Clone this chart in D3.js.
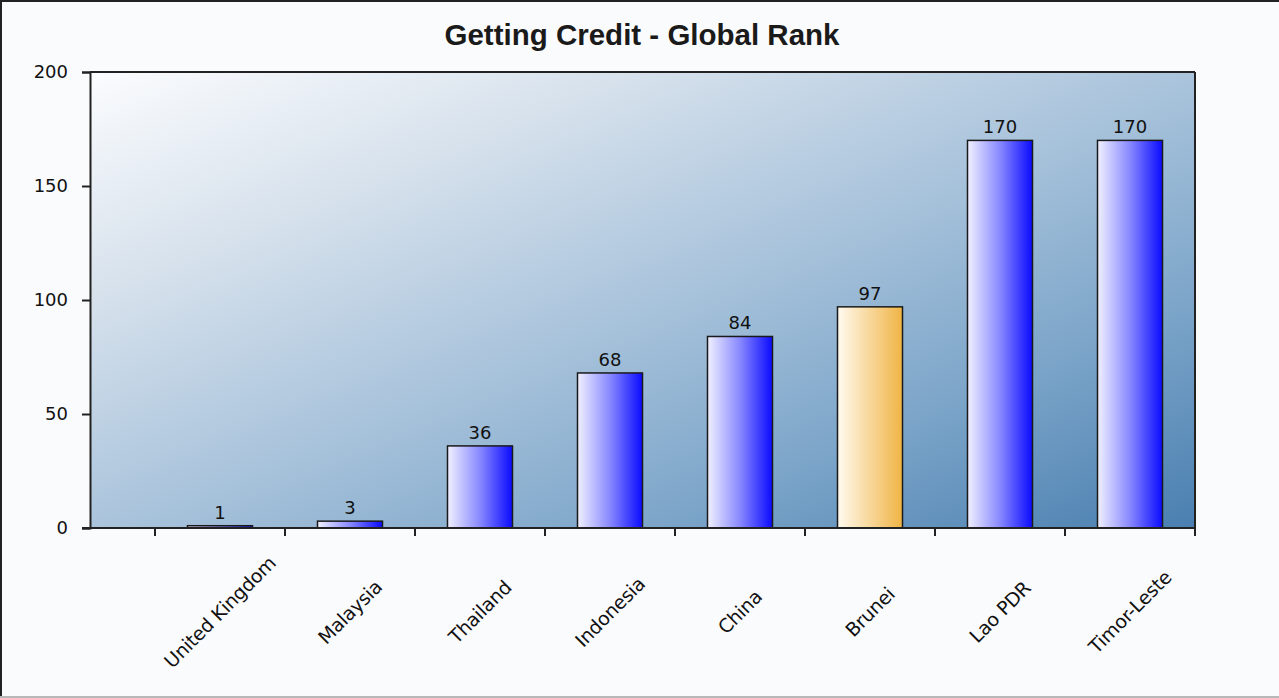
<!DOCTYPE html>
<html>
<head>
<meta charset="utf-8">
<script src="https://cdn.jsdelivr.net/npm/d3@7"></script>
<style>
  html, body { margin: 0; padding: 0; background: #fafbfd; }
  svg { display: block; }
</style>
</head>
<body>
<div id="chart"></div>
<script>
// chart data
const countries = ['United Kingdom', 'Malaysia', 'Thailand', 'Indonesia', 'China', 'Brunei', 'Lao PDR', 'Timor-Leste'];
const ranks = [1, 3, 36, 68, 84, 97, 170, 170];
const highlighted = ['Brunei'];
const yTicks = [0, 50, 100, 150, 200];

const width = 1279;
const height = 698;
const plot = { left: 90, top: 72, right: 1195, bottom: 528 };
const font = '"DejaVu Sans", Verdana, sans-serif';

const svg = d3.select('#chart')
  .append('svg')
  .attr('width', width)
  .attr('height', height);

const defs = svg.append('defs');

// diagonal background gradient of the plot area (corner to corner)
const bg = defs.append('linearGradient')
  .attr('id', 'plot-bg')
  .attr('x1', 0).attr('y1', 0)
  .attr('x2', 1).attr('y2', 1);
bg.append('stop').attr('offset', '0%').attr('stop-color', '#fbfcfe');
bg.append('stop').attr('offset', '25%').attr('stop-color', '#d6e1ec');
bg.append('stop').attr('offset', '50%').attr('stop-color', '#aac4dc');
bg.append('stop').attr('offset', '75%').attr('stop-color', '#7ca5c9');
bg.append('stop').attr('offset', '100%').attr('stop-color', '#4a7fb0');

// bar gradients
const blue = defs.append('linearGradient').attr('id', 'bar-blue');
blue.append('stop').attr('offset', '0%').attr('stop-color', '#f0f0ff');
blue.append('stop').attr('offset', '50%').attr('stop-color', '#8888ff');
blue.append('stop').attr('offset', '100%').attr('stop-color', '#0a0aff');

const gold = defs.append('linearGradient').attr('id', 'bar-gold');
gold.append('stop').attr('offset', '0%').attr('stop-color', '#fffaf0');
gold.append('stop').attr('offset', '100%').attr('stop-color', '#f0b444');

// outer frame
svg.append('rect')
  .attr('x', 1).attr('y', 1)
  .attr('width', width + 5).attr('height', height - 2)
  .attr('fill', '#fafbfd')
  .attr('stroke', '#222')
  .attr('stroke-width', 2);
svg.append('line')
  .attr('x1', 0).attr('x2', width)
  .attr('y1', height - 1).attr('y2', height - 1)
  .attr('stroke', '#b8b8b8')
  .attr('stroke-width', 2);

// scales (categories start half a band in from the left edge)
const x = d3.scaleBand()
  .domain(countries)
  .range([155, plot.right])
  .paddingInner(0.5)
  .paddingOuter(0.25);

const y = d3.scaleLinear()
  .domain([0, 200])
  .range([plot.bottom, plot.top]);

svg.append('rect')
  .attr('x', plot.left).attr('y', plot.top)
  .attr('width', plot.right - plot.left)
  .attr('height', plot.bottom - plot.top)
  .attr('fill', 'url(#plot-bg)');

// bars
svg.selectAll('.bar')
  .data(countries)
  .join('rect')
  .attr('class', 'bar')
  .attr('x', d => x(d))
  .attr('y', (d, i) => y(ranks[i]))
  .attr('width', x.bandwidth())
  .attr('height', (d, i) => y(0) - y(ranks[i]))
  .attr('fill', d => highlighted.includes(d) ? 'url(#bar-gold)' : 'url(#bar-blue)')
  .attr('stroke', '#1a1a1a')
  .attr('stroke-width', 1.5);

// value labels
svg.selectAll('.value')
  .data(countries)
  .join('text')
  .attr('class', 'value')
  .attr('x', d => x(d) + x.bandwidth() / 2)
  .attr('y', (d, i) => y(ranks[i]) - 7)
  .attr('text-anchor', 'middle')
  .style('font-family', font)
  .style('font-size', '18px')
  .style('fill', '#111')
  .text((d, i) => ranks[i]);

// y axis
const yAxis = svg.append('g')
  .attr('transform', `translate(${plot.left},0)`)
  .call(d3.axisLeft(y).tickValues(yTicks).tickSize(8).tickPadding(14));
yAxis.select('.domain').attr('stroke', '#222').attr('stroke-width', 2);
yAxis.selectAll('.tick line').attr('stroke', '#222').attr('stroke-width', 2);
yAxis.selectAll('.tick text')
  .style('font-family', font)
  .style('font-size', '18px')
  .style('fill', '#111');

// top and right borders of the plot area
svg.append('line')
  .attr('x1', plot.left).attr('x2', plot.right)
  .attr('y1', plot.top).attr('y2', plot.top)
  .attr('stroke', '#222').attr('stroke-width', 2);
svg.append('line')
  .attr('x1', plot.right).attr('x2', plot.right)
  .attr('y1', plot.top).attr('y2', plot.bottom)
  .attr('stroke', '#222').attr('stroke-width', 2);

// x axis: ticks sit on band boundaries
const step = x.step();
const boundaries = countries.map(d => x(d) + x.bandwidth() / 2 - step / 2);
boundaries.push(plot.right);

svg.append('line')
  .attr('x1', plot.left - 8).attr('x2', plot.right)
  .attr('y1', plot.bottom).attr('y2', plot.bottom)
  .attr('stroke', '#222').attr('stroke-width', 2);

svg.selectAll('.xtick')
  .data(boundaries)
  .join('line')
  .attr('class', 'xtick')
  .attr('x1', d => d).attr('x2', d => d)
  .attr('y1', plot.bottom).attr('y2', plot.bottom + 8)
  .attr('stroke', '#222').attr('stroke-width', 2);

svg.selectAll('.xlabel')
  .data(countries)
  .join('text')
  .attr('class', 'xlabel')
  .attr('transform', d => `translate(${x(d) + x.bandwidth() / 2},612) rotate(-45)`)
  .attr('text-anchor', 'middle')
  .attr('dy', '0.35em')
  .style('font-family', font)
  .style('font-size', '19px')
  .style('letter-spacing', '-0.3px')
  .style('fill', '#111')
  .text(d => d);

// title
svg.append('text')
  .attr('x', 642)
  .attr('y', 45)
  .attr('text-anchor', 'middle')
  .style('font-family', '"Liberation Sans", Arial, sans-serif')
  .style('font-weight', 'bold')
  .style('font-size', '29.5px')
  .style('fill', '#1a1a1a')
  .text('Getting Credit - Global Rank');
</script>
</body>
</html>
